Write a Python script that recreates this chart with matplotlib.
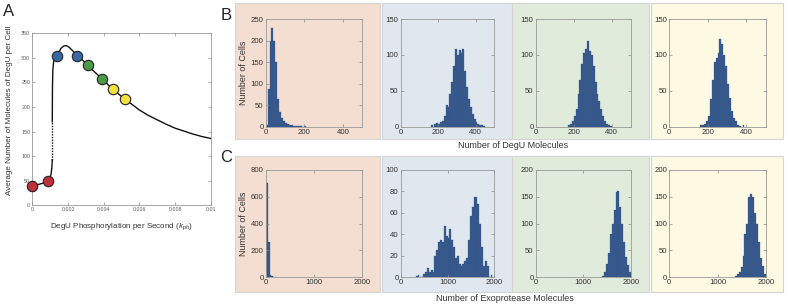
import matplotlib
matplotlib.use("Agg")
import matplotlib.pyplot as plt
import numpy as np
from matplotlib.patches import Rectangle

plt.rcParams['font.family'] = ['Liberation Sans', 'DejaVu Sans']
plt.rcParams['mathtext.fontset'] = 'custom'
plt.rcParams['mathtext.it'] = 'Liberation Sans:italic'
plt.rcParams['mathtext.rm'] = 'Liberation Sans'

W, H = 788, 308

# ---- panel A: mean DegU vs phosphorylation rate ----
low_x = [0, 0.0002, 0.0004, 0.0006, 0.00086, 0.00098, 0.00105, 0.00109, 0.00111, 0.00112]
low_y = [40, 41, 43, 45, 49, 55, 63, 75, 85, 93]
gap_x = [0.00112, 0.00112]
gap_y = [93, 170]
high_x = [0.00112, 0.00113, 0.00115, 0.00120, 0.00130, 0.00140, 0.00150, 0.00160,
          0.00175, 0.00190, 0.00205, 0.00225, 0.00252, 0.00280, 0.00310, 0.00350,
          0.00393, 0.00450, 0.00520, 0.00560, 0.00600, 0.00650, 0.00700, 0.00750,
          0.00800, 0.00850, 0.00900, 0.00950, 0.01000]
high_y = [170, 240, 275, 293, 301, 304, 312, 319, 324, 325, 322, 315, 304, 296,
          285, 271, 257, 236, 216, 205, 194, 183, 174, 165, 157, 151, 145, 140, 136]
dot_x = [0.0, 0.00086, 0.0014, 0.00252, 0.0031, 0.00393, 0.00454, 0.0052]
dot_y = [40, 49, 304, 304, 285, 257, 236, 216]
dot_colors = ['#c0303a', '#c0303a', '#3a67a8', '#3a67a8',
              '#4b9a47', '#4b9a47', '#f1e03e', '#f1e03e']

# ---- panels B / C: histograms ----
degu_bin = 10
degu_start = [0, 160, 170, 160]
degu_counts = [
    [5, 88, 198, 230, 198, 150, 65, 33, 20, 13, 9, 6, 4, 3, 2, 2, 1, 1, 1, 0, 1],
    [2, 0, 4, 5, 4, 6, 8, 15, 30, 27, 45, 62, 85, 108, 100, 107, 102, 108, 78, 55,
     38, 28, 18, 11, 6, 4, 3, 2, 1],
    [2, 4, 8, 15, 25, 45, 65, 88, 103, 108, 119, 105, 100, 85, 62, 45, 36, 25, 15,
     8, 4, 2, 1],
    [2, 3, 4, 8, 15, 38, 65, 90, 96, 103, 122, 115, 100, 85, 60, 40, 22, 12, 8, 3,
     1, 0, 2],
]
exo_bin = 40
exo_start = [0, 320, 1400, 1360]
exo_counts = [
    [700, 265, 18, 5, 2, 1],
    [1, 2, 0, 0, 3, 5, 8, 5, 7, 5, 20, 25, 33, 35, 33, 48, 38, 36, 45, 35, 28, 18,
     20, 12, 10, 12, 15, 18, 35, 57, 65, 75, 75, 68, 50, 28, 10, 15, 10, 0, 2],
    [2, 10, 25, 45, 80, 100, 125, 158, 160, 130, 100, 65, 38, 22, 10],
    [2, 5, 10, 18, 40, 80, 100, 150, 155, 150, 120, 100, 65, 35, 20, 5],
]
degu_ylim = [250, 150, 150, 150]
exo_ylim = [800, 100, 200, 200]
degu_yticks = [np.arange(0, 251, 50), np.arange(0, 151, 50), np.arange(0, 151, 50), np.arange(0, 151, 50)]
exo_yticks = [np.arange(0, 801, 200), np.arange(0, 101, 20), np.arange(0, 201, 50), np.arange(0, 201, 50)]

box_colors = ['#f3ded1', '#e0e7ef', '#e1ebdb', '#fdf9e2']
bar_color = '#37598b'


def px_axes(fig, left, top, right, bottom):
    return fig.add_axes([left / W, 1 - bottom / H, (right - left) / W, (bottom - top) / H])


def style(ax, size, labelcolor='#333333'):
    ax.tick_params(direction='in', top=True, right=True, length=2, width=0.5,
                   colors='#888888', labelcolor=labelcolor, labelsize=size, pad=1.5)
    for s in ax.spines.values():
        s.set_color('#999999')
        s.set_linewidth(0.6)


fig = plt.figure(figsize=(W / 100, H / 100), dpi=100)

# panel A
axA = px_axes(fig, 32.3, 33.3, 210.7, 205.3)
axA.plot(low_x, low_y, color='#111111', lw=1.0)
axA.plot(gap_x, gap_y, color='#111111', lw=1.0, ls=(0, (1, 1)))
axA.plot(high_x, high_y, color='#111111', lw=1.0)
for xx, yy, cc in zip(dot_x, dot_y, dot_colors):
    axA.plot(xx, yy, 'o', ms=7.5, mfc=cc, mec='#222222', mew=0.8, clip_on=False, zorder=3)
axA.set_xlim(0, 0.01)
axA.set_ylim(0, 350)
axA.set_xticks(np.arange(0, 0.0101, 0.002))
axA.set_xticklabels(['0', '0.002', '0.004', '0.006', '0.008', '0.01'])
axA.set_yticks(np.arange(0, 351, 50))
style(axA, 3.8, labelcolor='#555555')
fig.text(10 / W, 1 - 110 / H, 'Average Number of Molecules of DegU per Cell',
         rotation=90, ha='center', va='center', fontsize=5.8, color='#333333')
fig.text(121 / W, 1 - 227 / H, r'DegU Phosphorylation per Second ($k_{ph}$)',
         ha='center', va='center', fontsize=5.8, color='#333333')
fig.text(9 / W, 1 - 12 / H, 'A', ha='center', va='center', fontsize=12, color='#222222')

# background boxes
box_x = [(235, 380), (382, 513), (512, 649), (651, 783)]
for (top, bottom) in [(3, 139), (156, 292)]:
    for (l, r), c in zip(box_x, box_colors):
        fig.add_artist(Rectangle((l / W, 1 - bottom / H), (r - l) / W, (bottom - top) / H,
                                 transform=fig.transFigure, facecolor=c,
                                 edgecolor='#d4d4d4', lw=0.8, zorder=0))

ax_x = [(265.7, 362.3), (400.7, 494.3), (535.7, 630.7), (669.3, 765.7)]

for i, (l, r) in enumerate(ax_x):
    ax = px_axes(fig, l, 19, r, 126.7)
    ax.set_facecolor('none')
    edges = degu_start[i] + degu_bin * np.arange(len(degu_counts[i]))
    ax.bar(edges, degu_counts[i], width=degu_bin, align='edge', color=bar_color,
           edgecolor='#34548a', lw=0.2)
    ax.set_xlim(0, 500)
    ax.set_ylim(0, degu_ylim[i])
    ax.set_xticks([0, 200, 400])
    ax.set_yticks(degu_yticks[i])
    style(ax, 5.6)
    if i == 0:
        ax.set_ylabel('Number of Cells', fontsize=6.4, color='#333333', labelpad=2)

    ax = px_axes(fig, l, 170, r, 277)
    ax.set_facecolor('none')
    edges = exo_start[i] + exo_bin * np.arange(len(exo_counts[i]))
    ax.bar(edges, exo_counts[i], width=exo_bin, align='edge', color=bar_color,
           edgecolor='#34548a', lw=0.2)
    ax.set_xlim(0, 2000)
    ax.set_ylim(0, exo_ylim[i])
    ax.set_xticks([0, 1000, 2000])
    ax.set_yticks(exo_yticks[i])
    style(ax, 5.6)
    if i == 0:
        ax.set_ylabel('Number of Cells', fontsize=6.4, color='#333333', labelpad=2)

fig.text(513 / W, 1 - 146 / H, 'Number of DegU Molecules', ha='center', va='center',
         fontsize=6.4, color='#333333')
fig.text(505 / W, 1 - 298.5 / H, 'Number of Exoprotease Molecules', ha='center',
         va='center', fontsize=6.4, color='#333333')
fig.text(226 / W, 1 - 15 / H, 'B', ha='center', va='center', fontsize=12, color='#222222')
fig.text(226 / W, 1 - 158 / H, 'C', ha='center', va='center', fontsize=12, color='#222222')

fig.savefig('out.png', dpi=100)
